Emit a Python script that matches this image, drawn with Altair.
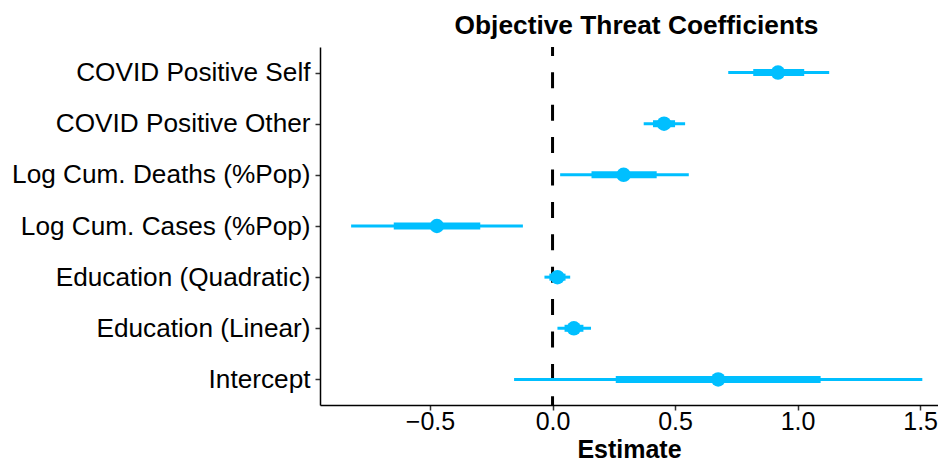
import altair as alt
import pandas as pd

terms = ["COVID Positive Self", "COVID Positive Other", "Log Cum. Deaths (%Pop)",
         "Log Cum. Cases (%Pop)", "Education (Quadratic)", "Education (Linear)", "Intercept"]
estimate = [0.920, 0.455, 0.290, -0.472, 0.020, 0.087, 0.676]
lo95 = [0.717, 0.372, 0.031, -0.822, -0.033, 0.020, -0.157]
hi95 = [1.129, 0.541, 0.556, -0.121, 0.072, 0.157, 1.509]
lo50 = [0.819, 0.410, 0.159, -0.648, -0.013, 0.049, 0.258]
hi50 = [1.027, 0.500, 0.425, -0.295, 0.053, 0.126, 1.094]
xticks = [-0.5, 0.0, 0.5, 1.0, 1.5]

df = pd.DataFrame({"term": terms, "est": estimate, "lo95": lo95, "hi95": hi95,
                   "lo50": lo50, "hi50": hi50})

FONT = "Liberation Sans"
COL = "#00BFFF"

xscale = alt.Scale(domain=[-0.949, 1.573], nice=False, zero=False)
yscale = alt.Scale(type="point", padding=0.5)

yenc = alt.Y("term:N", sort=terms, scale=yscale,
             axis=alt.Axis(title=None, grid=False, labelLimit=0))

base = alt.Chart(df)

outer = base.mark_rule(color=COL, strokeWidth=3).encode(
    x=alt.X("lo95:Q", scale=xscale,
            axis=alt.Axis(title="Estimate", values=xticks, format=".1f", grid=False,
                          labelBaseline="alphabetic", labelPadding=19,
                          titleBaseline="alphabetic", titleY=52)),
    x2="hi95:Q", y=yenc)
inner = base.mark_rule(color=COL, strokeWidth=7).encode(
    x=alt.X("lo50:Q", scale=xscale), x2="hi50:Q", y=yenc)
points = base.mark_point(filled=True, color=COL, size=210, opacity=1, strokeWidth=0).encode(
    x=alt.X("est:Q", scale=xscale), y=yenc)

zero = alt.Chart(pd.DataFrame({"z": [0.0]})).mark_rule(
    color="black", strokeWidth=3, strokeDash=[16, 16.4], strokeDashOffset=7.1).encode(
    x=alt.X("z:Q", scale=xscale), y=alt.value(0), y2=alt.value(358))

chart = alt.layer(zero, outer, inner, points).properties(
    width=618, height=358,
    title=alt.TitleParams("Objective Threat Coefficients", font=FONT, fontSize=26.3,
                          fontWeight="bold", color="black", offset=6, dx=7.5),
    autosize=alt.AutoSizeParams(type="none"),
    padding={"left": 312, "top": 39, "right": 0, "bottom": 58},
).configure_view(stroke=None).configure_axis(
    labelFont=FONT, titleFont=FONT,
    labelColor="black", titleColor="black", titleFontWeight="bold",
    domainColor="black", domainWidth=1.5, tickColor="#333333", tickSize=5, tickWidth=1.5,
).configure_axisX(labelFontSize=25, titleFontSize=25).configure_axisY(
    labelFontSize=26.2, labelPadding=5)

chart.save("out.html", embed_options={"renderer": "svg", "actions": False})
